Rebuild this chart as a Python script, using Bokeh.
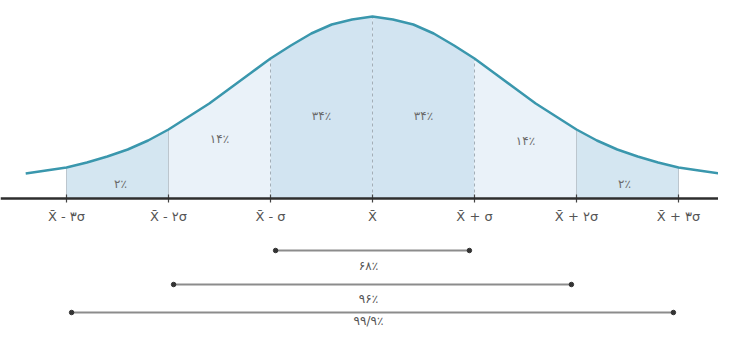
from bokeh.plotting import figure
from bokeh.models import Range1d, Span
from bokeh.core.properties import value
from bokeh.embed import file_html
from bokeh.resources import INLINE

# ---- data ----
# curve: position in sigma units and height above the axis
curve_x = [-3.4, -3.2, -3.0, -2.8, -2.6, -2.4, -2.2, -2.0, -1.8, -1.6, -1.4, -1.2,
           -1.0, -0.8, -0.6, -0.4, -0.2, 0.0, 0.2, 0.4, 0.6, 0.8, 1.0, 1.2, 1.4,
           1.6, 1.8, 2.0, 2.2, 2.4, 2.6, 2.8, 3.0, 3.2, 3.4, 3.6]
curve_h = [25, 28, 31, 36, 42, 49, 58, 69, 82, 95, 110, 125,
           140, 153, 165, 174, 179, 182, 179, 174, 165, 153, 140, 125, 110,
           95, 82, 69, 58, 49, 42, 36, 31, 28, 25, 24]

tick_pos = [-3, -2, -1, 0, 1, 2, 3]
tick_labels = ["X\u0304 - ۳σ", "X\u0304 - ۲σ", "X\u0304 - σ", "X\u0304",
               "X\u0304 + σ", "X\u0304 + ۲σ", "X\u0304 + ۳σ"]

band_start = [-3, -2, -1, 0, 1, 2]
band_end = [-2, -1, 0, 1, 2, 3]
band_labels = ["۲٪", "۱۴٪", "۳۴٪", "۳۴٪", "۱۴٪", "۲٪"]

range_k = [1, 2, 3]
range_labels = ["۶۸٪", "۹۶٪", "۹۹/۹٪"]

# ---- styling ----
band_colors = ["#d4e6f1", "#eaf2f9", "#d2e4f1", "#d2e4f1", "#eaf2f9", "#d4e6f1"]
band_label_y = [15, 60, 83, 83, 58, 15]
band_label_dx = [0.03, 0.0, 0.0, 0.0, 0.0, -0.03]
font = value("DejaVu Sans")

p = figure(width=718, height=327, output_backend="svg", toolbar_location=None,
           x_range=Range1d(-372 / 102, 346 / 102), y_range=Range1d(-129, 198),
           min_border=0, outline_line_color=None)
p.axis.visible = False
p.grid.visible = False
p.background_fill_color = "white"


def h_at(x):
    return curve_h[curve_x.index(float(x))]


# bands
for i, (a, b) in enumerate(zip(band_start, band_end)):
    xs = [x for x in curve_x if a - 1e-9 <= x <= b + 1e-9]
    ys = [curve_h[curve_x.index(x)] for x in xs]
    p.varea(x=xs, y1=[0] * len(xs), y2=ys, fill_color=band_colors[i])

# boundary lines
for t in tick_pos:
    top = h_at(t)
    if abs(t) <= 1:
        p.segment(x0=[t], y0=[0], x1=[t], y1=[top], line_color="#a3aeb7",
                  line_width=1, line_dash="3 3")
    else:
        p.segment(x0=[t], y0=[0], x1=[t], y1=[top], line_color="#bcc6ce",
                  line_width=1)

# curve
p.line(curve_x, curve_h, line_color="#3a97ad", line_width=2.5)

# axis line and ticks
p.add_layout(Span(location=0, dimension="width", line_color="#2e2e2e", line_width=2.5))
p.segment(x0=tick_pos, y0=[-4] * 7, x1=tick_pos, y1=[4] * 7, line_color="#444444",
          line_width=1.2)
p.text(x=tick_pos, y=[-18] * 7, text=tick_labels, text_align="center",
       text_baseline="middle", text_font=font, text_font_size="13px",
       text_color="#555555")

# band labels
bx = [(a + b) / 2 + d for a, b, d in zip(band_start, band_end, band_label_dx)]
p.text(x=bx, y=band_label_y, text=band_labels, text_align="center",
       text_baseline="middle", text_font=font, text_font_size="12px",
       text_color="#6a6a6a")

# range arrows
line_y = [-52, -86, -114]
label_y = [-67, -100, -122]
inset = 0.05
x0s = [-k + inset for k in range_k]
x1s = [k - inset for k in range_k]
p.segment(x0=x0s, y0=line_y, x1=x1s, y1=line_y, line_color="#8c8c8c", line_width=2.2)
p.scatter(x=x0s + x1s, y=line_y + line_y, size=4.5, color="#333333")
p.text(x=[-0.04] * 3, y=label_y, text=range_labels, text_align="center",
       text_baseline="middle", text_font=font, text_font_size="12px",
       text_color="#555555")

open("out.html", "w").write(file_html(p, INLINE))
